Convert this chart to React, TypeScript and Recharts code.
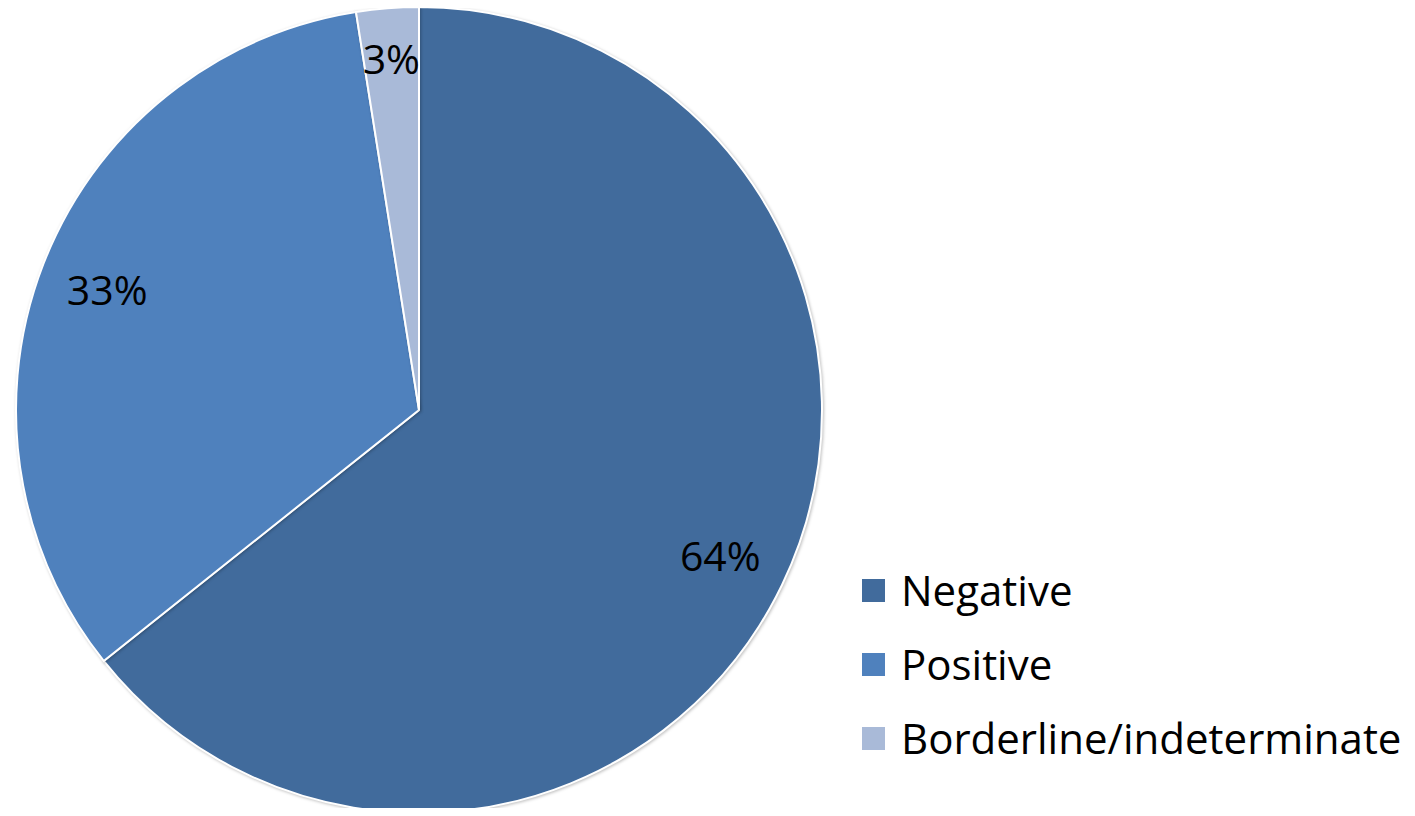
import { PieChart, Pie, Cell, Legend } from "recharts"

const categories = ["Negative", "Positive", "Borderline/indeterminate"]
const shares = [64.3, 33.2, 2.5]
const colors = ["#416B9C", "#4F81BD", "#A9BAD8"]

const data = categories.map((name, i) => ({ name, value: shares[i] }))

const RADIAN = Math.PI / 180
const FONT = "'Open Sans', sans-serif"

function renderLabel(props: any) {
  const { cx, cy, midAngle, outerRadius, percent } = props
  // small slices get pushed out a bit, like Excel's best fit
  const r = outerRadius * (percent < 0.05 ? 0.875 : 0.83)
  const x = cx + r * Math.cos(-midAngle * RADIAN)
  const y = cy + r * Math.sin(-midAngle * RADIAN)
  return (
    <text x={x} y={y} fill="#000" textAnchor="middle" dominantBaseline="central"
      style={{ fontFamily: FONT, fontSize: 41 }}>
      {`${Math.round(percent * 100)}%`}
    </text>
  )
}

function LegendContent() {
  return (
    <div style={{ fontFamily: FONT, fontSize: 42, color: "#000" }}>
      {categories.map((c, i) => (
        <div key={c} style={{ display: "flex", alignItems: "center", height: 74 }}>
          <span style={{ width: 23, height: 23, background: colors[i], display: "inline-block", marginRight: 16 }} />
          <span style={{ lineHeight: "74px", whiteSpace: "nowrap" }}>{c}</span>
        </div>
      ))}
    </div>
  )
}

export default function App() {
  return (
    <div style={{ margin: -8, width: 1415, height: 816, background: "#fff" }}>
      <PieChart width={1415} height={816} margin={{ top: 0, right: 0, bottom: 0, left: 0 }}>
        <Pie
          data={data}
          dataKey="value"
          nameKey="name"
          cx={419}
          cy={410}
          outerRadius={403}
          startAngle={90}
          endAngle={-270}
          stroke="#fff"
          strokeWidth={2}
          label={renderLabel}
          labelLine={false}
          isAnimationActive={false}
          style={{ filter: "drop-shadow(1px 1px 1.5px rgba(0,0,0,0.25))" }}
        >
          {data.map((d, i) => (
            <Cell key={d.name} fill={colors[i]} />
          ))}
        </Pie>
        <Legend
          layout="vertical"
          content={LegendContent}
          wrapperStyle={{ left: 862, top: 553, width: 560 }}
        />
      </PieChart>
    </div>
  )
}
